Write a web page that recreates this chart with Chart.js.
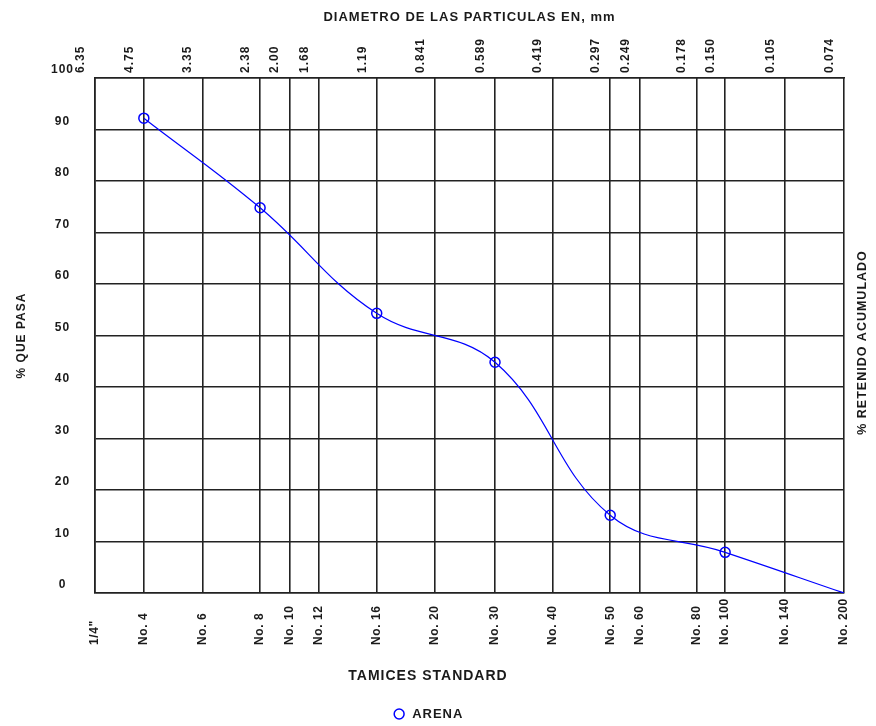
<!DOCTYPE html>
<html>
<head>
<meta charset="utf-8">
<script src="https://cdn.jsdelivr.net/npm/chart.js@4.4.0/dist/chart.umd.min.js"></script>
<style>
  html, body { margin: 0; padding: 0; background: #fff; }
</style>
</head>
<body>
<canvas id="granulometria" width="876" height="726"></canvas>
<script>
// Aberturas de tamiz (mm) y nombres de la serie standard
const sieveSizes = [6.35, 4.75, 3.35, 2.38, 2.00, 1.68, 1.19, 0.841, 0.589, 0.419, 0.297, 0.249, 0.178, 0.150, 0.105, 0.074];
const sizeLabels = ['6.35', '4.75', '3.35', '2.38', '2.00', '1.68', '1.19', '0.841', '0.589', '0.419', '0.297', '0.249', '0.178', '0.150', '0.105', '0.074'];
const sieveNames = ['1/4"', 'No. 4', 'No. 6', 'No. 8', 'No. 10', 'No. 12', 'No. 16', 'No. 20', 'No. 30', 'No. 40', 'No. 50', 'No. 60', 'No. 80', 'No. 100', 'No. 140', 'No. 200'];

// Ensayo de la arena: tamiz (mm) y % que pasa
const sampleSizes = [4.75, 2.38, 1.19, 0.589, 0.297, 0.150, 0.074];
const percentPassing = [92.2, 74.8, 54.3, 44.8, 15.1, 7.9, 0];

const INK = '#1a1a1a';
const GRID = '#222';
const FONT = '"Liberation Sans", Arial, sans-serif';

Chart.defaults.font.family = FONT;
Chart.defaults.font.size = 12;
Chart.defaults.font.weight = 'bold';
Chart.defaults.color = INK;

// texto algo espaciado, como en la hoja original
const spacing = {
    id: 'spacing',
    beforeUpdate(chart) { chart.ctx.letterSpacing = '1px'; },
    beforeDraw(chart) { chart.ctx.letterSpacing = '1px'; }
};

// nombres de tamiz abajo y titulo del eje derecho (leido de abajo hacia arriba)
const extraLabels = {
    id: 'extraLabels',
    afterDraw(chart) {
        const { ctx, chartArea, scales } = chart;
        const x = scales.x;
        ctx.save();
        ctx.letterSpacing = '0.6px';
        ctx.font = 'bold 12px ' + FONT;
        ctx.fillStyle = INK;
        ctx.textAlign = 'left';
        ctx.textBaseline = 'middle';
        sieveNames.forEach((name, i) => {
            ctx.save();
            ctx.translate(x.getPixelForValue(sieveSizes[i]), chartArea.bottom + 52);
            ctx.rotate(-Math.PI / 2);
            ctx.fillText(name, 0, 0);
            ctx.restore();
        });
        ctx.letterSpacing = '1px';
        ctx.font = 'bold 12.5px ' + FONT;
        ctx.translate(chartArea.right + 19, (chartArea.top + chartArea.bottom) / 2 + 7);
        ctx.rotate(-Math.PI / 2);
        ctx.textAlign = 'center';
        ctx.fillText('% RETENIDO ACUMULADO', 0, 0);
        ctx.restore();
    }
};

const sieveTicks = (scale) => {
    scale.ticks = sieveSizes.map(v => ({ value: v }));
};

new Chart(document.getElementById('granulometria'), {
    type: 'line',
    data: {
        datasets: [{
            label: 'ARENA',
            data: sampleSizes.map((s, i) => ({ x: s, y: percentPassing[i] })),
            borderColor: '#0000ff',
            borderWidth: 1.2,
            tension: 0.4,
            fill: false,
            pointStyle: 'circle',
            pointRadius: sampleSizes.map((s, i) => i === sampleSizes.length - 1 ? 0 : 5),
            pointBorderColor: '#0000ff',
            pointBackgroundColor: 'rgba(255,255,255,0)',
            pointBorderWidth: 1.5
        }]
    },
    options: {
        responsive: false,
        animation: false,
        layout: { padding: { left: 4, right: 24, top: 4, bottom: -4.5 } },
        scales: {
            x: {
                type: 'logarithmic',
                position: 'bottom',
                reverse: true,
                min: 0.074,
                max: 6.35,
                afterBuildTicks: sieveTicks,
                afterFit: (s) => { s.height = 64.6; },
                ticks: { display: false },
                grid: { color: GRID, lineWidth: 1.6, drawTicks: false },
                border: { color: GRID, width: 1.6 }
            },
            xTop: {
                type: 'logarithmic',
                position: 'top',
                reverse: true,
                min: 0.074,
                max: 6.35,
                afterBuildTicks: sieveTicks,
                afterFit: (s) => { s.height = 53.2; },
                ticks: {
                    autoSkip: false,
                    minRotation: 90,
                    maxRotation: 90,
                    padding: 5,
                    callback: (v) => sizeLabels[sieveSizes.indexOf(v)]
                },
                grid: { display: false, drawTicks: false },
                border: { color: GRID, width: 1.6 }
            },
            y: {
                min: 0,
                max: 100,
                afterFit: (s) => { s.width = 91; },
                ticks: { stepSize: 10, padding: 21, crossAlign: 'center', labelOffset: -8 },
                title: { display: true, text: '% QUE PASA', padding: { top: 10, bottom: 0 } },
                grid: { color: GRID, lineWidth: 1.6, drawTicks: false },
                border: { color: GRID, width: 1.6 }
            },
            // eje derecho (% retenido): solo reserva el margen, su titulo lo pinta extraLabels
            yRight: {
                position: 'right',
                min: 0,
                max: 100,
                afterFit: (s) => { s.width = 8; },
                ticks: { display: false },
                grid: { display: false, drawTicks: false },
                border: { display: false }
            }
        },
        plugins: {
            title: {
                display: true,
                fullSize: false,
                text: 'DIAMETRO DE LAS PARTICULAS EN, mm',
                color: INK,
                font: { size: 13, weight: 'bold' },
                padding: { top: 5.2, bottom: 0 }
            },
            subtitle: {
                display: true,
                position: 'bottom',
                text: 'TAMICES STANDARD',
                weight: 500,
                color: INK,
                font: { size: 14, weight: 'bold' },
                padding: { top: 10, bottom: 1.1 }
            },
            legend: {
                position: 'bottom',
                labels: { usePointStyle: true, boxHeight: 7, padding: 22, color: INK, font: { size: 13, weight: 'bold' } }
            },
            tooltip: { enabled: false }
        }
    },
    plugins: [spacing, extraLabels]
});
</script>
</body>
</html>
